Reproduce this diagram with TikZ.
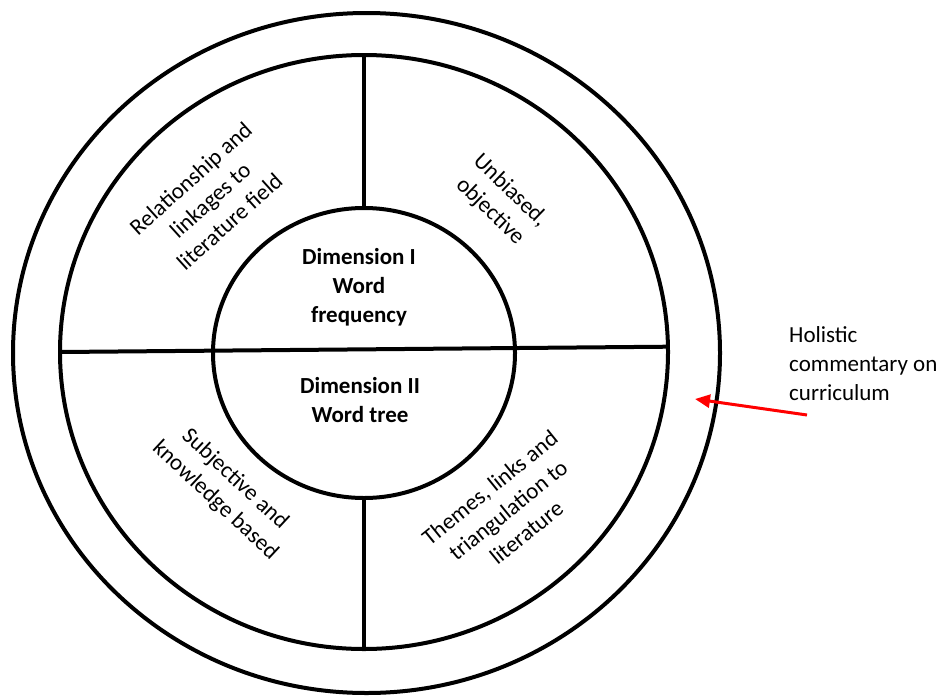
\documentclass[tikz,border=0pt]{standalone}
\usepackage{fontspec}
\setmainfont{Carlito}
\usetikzlibrary{shapes.geometric,arrows.meta}
\begin{document}
\begin{tikzpicture}[x=1pt, y=-1pt,
        ring/.style={draw, ellipse, line width=4pt, inner sep=0pt, outer sep=0pt},
        divider/.style={line width=4pt},
        pointer/.style={draw=red, line width=3pt, -{Triangle[length=15pt,width=13pt]}},
        dim/.style={font=\fontsize{23}{29}\selectfont\bfseries},
        every node/.style={align=center, font=\fontsize{23}{29}\selectfont}]
    \useasboundingbox (0,0) rectangle (941,696);

    % rings
    \node[ring, minimum width=707pt, minimum height=680pt] (outer) at (366.5,353) {};
    \node[ring, minimum width=608pt, minimum height=594pt] (middle) at (364,352) {};
    \node[ring, minimum width=302pt, minimum height=290pt] (inner) at (364,353) {};

    % quadrant dividers
    \draw[divider] (middle.north) -- (inner.north);
    \draw[divider] (inner.south) -- (middle.south);
    \draw[divider] (middle.west) -- (middle.1.5);

    % centre
    \node[dim] (dimone) at (359,287) {Dimension I\\Word\\frequency};
    \node[dim] (dimtwo) at (360,400) {Dimension II\\Word tree};

    % quadrants
    \node[rotate=42] (relation) at (210,200) {Relationship and\\linkages to\\literature field};
    \node[rotate=-44] (unbiased) at (500,201) {Unbiased,\\objective};
    \node[rotate=-43] (subjective) at (225,490) {Subjective and\\knowledge based};
    \node[rotate=39] (themes) at (508,510) {Themes, links and\\triangulation to\\literature};

    % outer ring comment
    \node[anchor=west, align=left, inner sep=0pt] (holistic) at (789,364) {Holistic\\commentary on\\curriculum};
    \coordinate (tail) at (807,415);
    \coordinate (tip) at (695,399);
    \draw[pointer] (tail) -- (tip);
\end{tikzpicture}
\end{document}
